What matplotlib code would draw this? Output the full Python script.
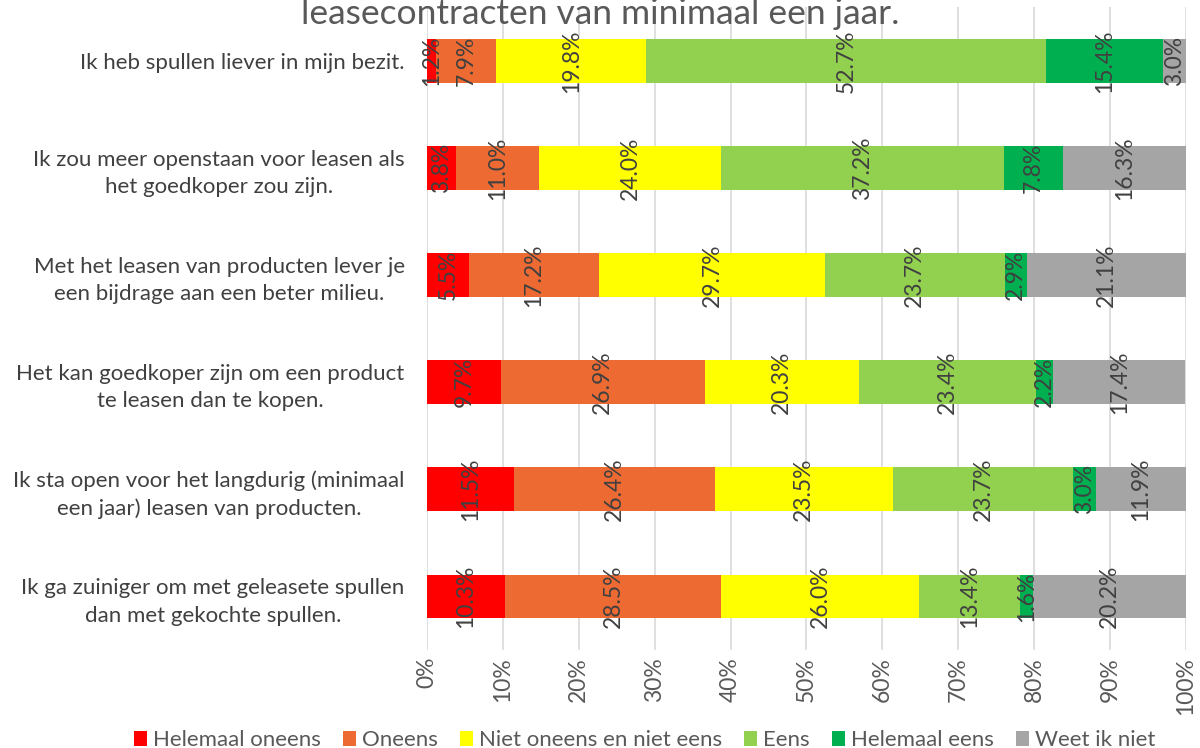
import matplotlib
matplotlib.use("Agg")
import matplotlib.pyplot as plt
import numpy as np

plt.rcParams['font.family'] = ['Lato', 'DejaVu Sans']

statements = [
    "Ik heb spullen liever in mijn bezit.",
    "Ik zou meer openstaan voor leasen als\nhet goedkoper zou zijn.",
    "Met het leasen van producten lever je\neen bijdrage aan een beter milieu.",
    "Het kan goedkoper zijn om een product\nte leasen dan te kopen.",
    "Ik sta open voor het langdurig (minimaal\neen jaar) leasen van producten.",
    "Ik ga zuiniger om met geleasete spullen\ndan met gekochte spullen.",
]

answers = ["Helemaal oneens", "Oneens", "Niet oneens en niet eens",
           "Eens", "Helemaal eens", "Weet ik niet"]

helemaal_oneens = [1.2, 3.8, 5.5, 9.7, 11.5, 10.3]
oneens = [7.9, 11.0, 17.2, 26.9, 26.4, 28.5]
neutraal = [19.8, 24.0, 29.7, 20.3, 23.5, 26.0]
eens = [52.7, 37.2, 23.7, 23.4, 23.7, 13.4]
helemaal_eens = [15.4, 7.8, 2.9, 2.2, 3.0, 1.6]
weet_niet = [3.0, 16.3, 21.1, 17.4, 11.9, 20.2]

x_ticks = [0, 10, 20, 30, 40, 50, 60, 70, 80, 90, 100]

series = [helemaal_oneens, oneens, neutraal, eens, helemaal_eens, weet_niet]
colors = ["#FF0000", "#ED6A33", "#FFFF00", "#92D050", "#00B050", "#A5A5A5"]

fig = plt.figure(figsize=(12, 7.48), dpi=100)
ax = fig.add_axes([0.3558, 0.131, 0.6325, 0.859])

y = np.arange(len(statements))
left = np.zeros(len(statements))
for vals, col, name in zip(series, colors, answers):
    vals = np.array(vals)
    ax.barh(y, vals, left=left, height=0.41, color=col, label=name, zorder=2)
    for yi, (l, v) in enumerate(zip(left, vals)):
        ax.text(l + v / 2, yi, f"{v:.1f}%", rotation=90, ha='center', va='center',
                fontsize=16.5, color='#404040', zorder=3)
    left += vals

ax.set_xlim(0, 100)
ax.set_ylim(len(statements) - 0.5, -0.5)
ax.set_xticks(x_ticks)
ax.set_xticklabels([f"{t}%" for t in x_ticks], rotation=90, fontsize=16.5, color='#595959')
ax.set_yticks(y)
ax.set_yticklabels(statements, fontsize=16, color='#404040')
for lbl in ax.get_yticklabels():
    lbl.set_multialignment('center')
    lbl.set_linespacing(1.45)
ax.tick_params(axis='y', length=0, pad=16)
ax.tick_params(axis='x', length=0, pad=5)
ax.grid(axis='x', color='#D9D9D9', linewidth=1.2, zorder=0)
for s in ax.spines.values():
    s.set_visible(False)

fig.text(0.5, 1.003, "leasecontracten van minimaal een jaar.", ha='center', va='top',
         fontsize=25.5, color='#595959')

handles, labels = ax.get_legend_handles_labels()
fig.legend(handles, labels, loc='lower center', bbox_to_anchor=(0.537, -0.03), ncol=6,
           frameon=False, fontsize=16, handlelength=0.6, handleheight=0.7,
           handletextpad=0.25, columnspacing=1.0, labelcolor='#595959')

fig.savefig("out.png", dpi=100)
